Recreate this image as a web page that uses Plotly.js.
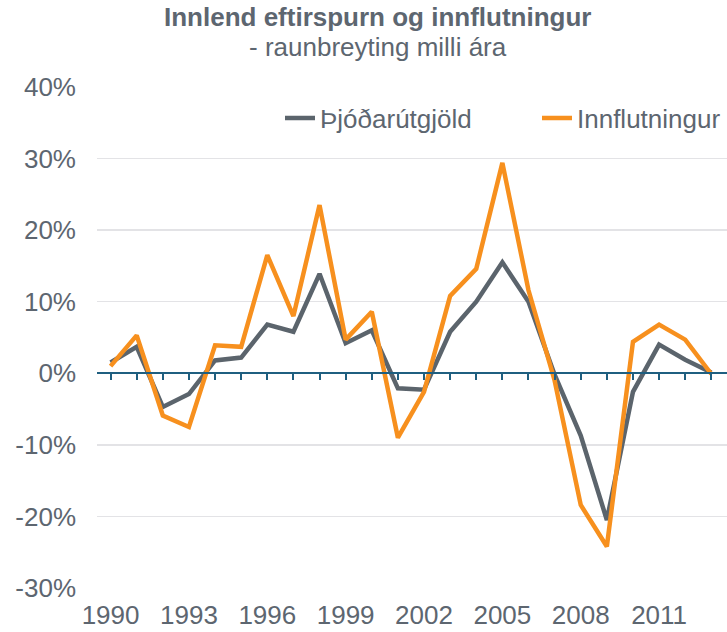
<!DOCTYPE html>
<html>
<head>
<meta charset="utf-8">
<script src="https://cdn.plot.ly/plotly-3.0.1.min.js"></script>
<style>html,body{margin:0;padding:0;background:#fff;}#chart{width:727px;height:632px;}</style>
</head>
<body>
<div id="chart"></div>
<script>
const years = [1990,1991,1992,1993,1994,1995,1996,1997,1998,1999,2000,2001,2002,2003,2004,2005,2006,2007,2008,2009,2010,2011,2012,2013];
const thjodarutgjold = [1.5,3.7,-4.7,-2.9,1.8,2.2,6.8,5.8,13.9,4.2,6.0,-2.1,-2.3,5.8,10.0,15.5,10.0,-0.2,-8.7,-20.5,-2.6,4.0,1.9,0.1];
const innflutningur = [1.0,5.3,-5.9,-7.5,3.9,3.7,16.5,8.0,23.5,4.7,8.6,-9.0,-2.6,10.8,14.6,29.4,11.6,-1.0,-18.4,-24.2,4.4,6.8,4.7,-0.1];
const xTickVals = [1990,1993,1996,1999,2002,2005,2008,2011];
const yTickVals = [-30,-20,-10,0,10,20,30,40];
const yTickText = ['-30%','-20%','-10%','0%','10%','20%','30%','40%'];

const txt = '#5d6670';
const fam = '"Liberation Sans", Arial, sans-serif';
const font = {family:fam, size:26, color:txt};

const traces = [
  {x:years, y:thjodarutgjold, name:'Þjóðarútgjöld', type:'scatter', mode:'lines',
   line:{color:'#5b646c', width:4.5}, legend:'legend'},
  {x:years, y:innflutningur, name:'Innflutningur', type:'scatter', mode:'lines',
   line:{color:'#f7901e', width:4.5}, legend:'legend2'},
  {x:years, y:years.map(()=>null), xaxis:'x2', yaxis:'y', showlegend:false, hoverinfo:'skip', type:'scatter'}
];

const layout = {
  width:727, height:632,
  margin:{l:97, r:0, t:87, b:44},
  paper_bgcolor:'#fff', plot_bgcolor:'#fff',
  font:font,
  showlegend:true,
  annotations:[
    {text:'<b>Innlend eftirspurn og innflutningur</b>', xref:'paper', yref:'paper',
     x:(378-97)/630, y:(632-17-44)/501, xanchor:'center', yanchor:'middle', showarrow:false,
     font:{family:fam, size:26, color:txt}},
    {text:'- raunbreyting milli ára', xref:'paper', yref:'paper',
     x:(378-97)/630, y:(632-47-44)/501, xanchor:'center', yanchor:'middle', showarrow:false,
     font:{family:fam, size:26, color:txt}}
  ],
  legend:{orientation:'h', x:(280-97)/630, xanchor:'left', y:(588-118)/501, yanchor:'middle',
          bgcolor:'rgba(0,0,0,0)', font:{family:fam, size:26, color:txt}},
  legend2:{orientation:'h', x:(537-97)/630, xanchor:'left', y:(588-118)/501, yanchor:'middle',
          bgcolor:'rgba(0,0,0,0)', font:{family:fam, size:26, color:txt}},
  xaxis:{range:[1989.48,2013.6], tickvals:xTickVals, ticktext:xTickVals.map(String),
         showgrid:false, zeroline:false, showline:false, ticks:'',
         ticklabelstandoff:9, tickfont:{family:fam, size:26, color:txt}, fixedrange:true},
  xaxis2:{range:[1989.48,2013.6], overlaying:'x', anchor:'free', position:30/70, side:'bottom',
          showline:true, linecolor:'#1f5f80', linewidth:2, ticks:'outside', ticklen:6,
          tickwidth:2, tickcolor:'#1f5f80', dtick:1, tick0:1990, showticklabels:false,
          showgrid:false, zeroline:false},
  yaxis:{range:[-30,40], tickvals:yTickVals, ticktext:yTickText, showgrid:true,
         gridcolor:'#e3e3e6', gridwidth:1.5, zeroline:false, showline:false, ticks:'',
         ticklabelstandoff:20, tickfont:{family:fam, size:26, color:txt}, fixedrange:true}
};

Plotly.newPlot('chart', traces, layout, {displayModeBar:false, staticPlot:true});
</script>
</body>
</html>
